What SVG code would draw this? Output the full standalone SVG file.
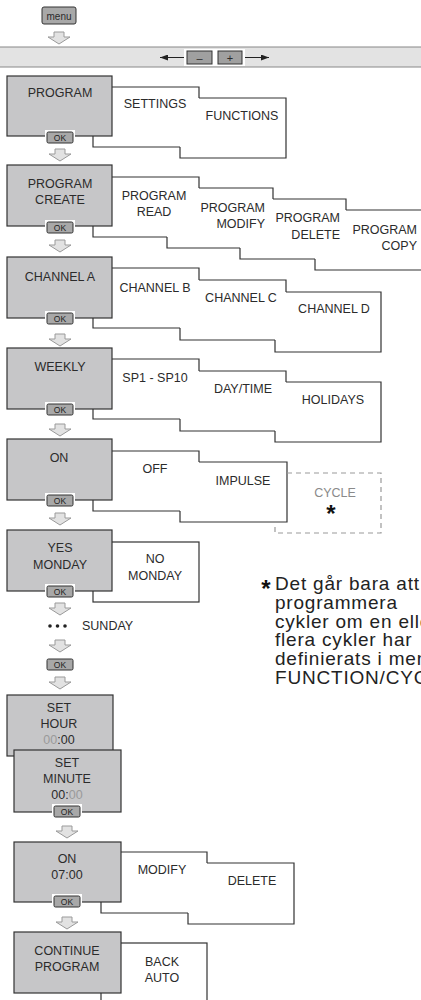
<svg xmlns="http://www.w3.org/2000/svg" xmlns:xlink="http://www.w3.org/1999/xlink" width="421" height="1000" viewBox="0 0 421 1000">
<style>
.gb{fill:#c6c6c8;stroke:#333;stroke-width:1.2}
.wb{fill:#fff;stroke:#333;stroke-width:1.2}
.ol{fill:none;stroke:#333;stroke-width:1.2}
.dash{fill:none;stroke:#999;stroke-width:1.2;stroke-dasharray:5 4}
.t{font-family:"Liberation Sans",Arial,sans-serif;font-size:12.5px;fill:#2b2b2b;text-anchor:middle}
.r{text-anchor:end}
.g{fill:#9a9a9a}
.okb{fill:#a8a8a8;stroke:#333;stroke-width:1}
.okh{fill:#fff}
.okt{font-family:"Liberation Sans",Arial,sans-serif;font-size:8.5px;fill:#222;text-anchor:middle}
.arr{fill:#e2e2e2;stroke:#9a9a9a;stroke-width:1}
.star{font-family:"Liberation Sans",Arial,sans-serif;font-size:24px;font-weight:bold;fill:#111;text-anchor:middle}
.fn{font-family:"Liberation Sans",Arial,sans-serif;font-size:19px;letter-spacing:0.8px;fill:#222}
</style>
<defs>
<path id="da" class="arr" d="M-5,0 H5 V5 H11 L0,12 L-11,5 H-5 Z"/>
<g id="ok"><rect class="okh" x="-15" y="-2" width="30" height="15"/><rect class="okb" x="-13" y="0" width="26" height="11" rx="1.5"/><text class="okt" x="0" y="8.5">OK</text></g>
<marker id="ah" viewBox="0 0 8 6" refX="8" refY="3" markerWidth="8" markerHeight="6" orient="auto"><path d="M0,0 L8,3 L0,6 Z" fill="#222"/></marker>
</defs>

<g id="menu"><rect x="42" y="7" width="34" height="17" rx="2" fill="#a8a8a8" stroke="#333" stroke-width="1"/><text class="t" x="59" y="19.5" style="font-size:10px">menu</text></g>

<g id="bar">
<rect x="-2" y="47" width="425" height="20" fill="#e3e3e3" stroke="#888" stroke-width="1"/>
<line x1="184" y1="57.5" x2="160" y2="57.5" stroke="#222" stroke-width="1" marker-end="url(#ah)"/>
<line x1="245" y1="57.5" x2="269" y2="57.5" stroke="#222" stroke-width="1" marker-end="url(#ah)"/>
<rect x="184" y="49" width="31" height="17" fill="#fff"/>
<rect x="215" y="49" width="30" height="17" fill="#fff"/>
<rect x="187" y="51" width="25" height="13" fill="#a0a0a0" stroke="#333" stroke-width="1"/>
<rect x="218" y="51" width="24" height="13" fill="#a0a0a0" stroke="#333" stroke-width="1"/>
<text class="t" x="199.5" y="61.5" style="font-size:11px">–</text>
<text class="t" x="230" y="61.5" style="font-size:11px">+</text>
</g>

<g id="connectors">
<use xlink:href="#da" x="59" y="32"/>
<use xlink:href="#da" x="60" y="149"/>
<use xlink:href="#da" x="60" y="240"/>
<use xlink:href="#da" x="60" y="334"/>
<use xlink:href="#da" x="60" y="424"/>
<use xlink:href="#da" x="60" y="513"/>
<use xlink:href="#da" x="60" y="603"/>
<use xlink:href="#da" x="60" y="640"/>
<use xlink:href="#da" x="60" y="677"/>
<use xlink:href="#da" x="67" y="826"/>
<use xlink:href="#da" x="67" y="917"/>
</g>

<!-- Row 1 -->
<g id="settings"><path class="ol" d="M180,147 H93 V87 H199 V98"/><text class="t" x="155" y="108">SETTINGS</text></g>
<g id="functions"><path class="ol" d="M199,98 H286 V158 H180 V147"/><text class="t" x="242" y="120">FUNCTIONS</text></g>
<g id="program"><rect class="gb" x="7" y="76" width="105" height="60"/><text class="t" x="60" y="97">PROGRAM</text><use xlink:href="#ok" x="60" y="132"/></g>

<!-- Row 2 -->
<g id="pread"><path class="ol" d="M167,237 H93 V177 H199 V188"/><text class="t" x="154" y="200">PROGRAM</text><text class="t" x="154" y="216">READ</text></g>
<g id="pmodify"><path class="ol" d="M199,188 H273 V199 M240,248 H167 V237"/><text class="t r" x="265" y="212">PROGRAM</text><text class="t r" x="265" y="228">MODIFY</text></g>
<g id="pdelete"><path class="ol" d="M273,199 H346 V210 M315,259 H240 V248"/><text class="t r" x="340" y="222">PROGRAM</text><text class="t r" x="340" y="239">DELETE</text></g>
<g id="pcopy"><path class="ol" d="M346,210 H440 M440,270 H315 V259"/><text class="t r" x="417" y="234">PROGRAM</text><text class="t r" x="417" y="250">COPY</text></g>
<g id="pcreate"><rect class="gb" x="7" y="165" width="105" height="61"/><text class="t" x="60" y="188">PROGRAM</text><text class="t" x="60" y="204">CREATE</text><use xlink:href="#ok" x="60" y="222"/></g>

<!-- Row 3 -->
<g id="chb"><path class="ol" d="M180,328 H93 V268 H199 V280"/><text class="t" x="155" y="292">CHANNEL B</text></g>
<g id="chc"><path class="ol" d="M199,280 H286 V292 M275,340 H180 V328"/><text class="t" x="241" y="302">CHANNEL C</text></g>
<g id="chd"><path class="ol" d="M286,292 H381 V352 H275 V340"/><text class="t" x="334" y="313">CHANNEL D</text></g>
<g id="cha"><rect class="gb" x="7" y="257" width="105" height="61"/><text class="t" x="60" y="281">CHANNEL A</text><use xlink:href="#ok" x="60" y="313"/></g>

<!-- Row 4 -->
<g id="sp"><path class="ol" d="M180,419 H93 V359 H199 V371"/><text class="t" x="155" y="382">SP1 - SP10</text></g>
<g id="daytime"><path class="ol" d="M199,371 H286 V382 M275,431 H180 V419"/><text class="t" x="243" y="393">DAY/TIME</text></g>
<g id="holidays"><path class="ol" d="M286,382 H381 V442 H275 V431"/><text class="t" x="333" y="404">HOLIDAYS</text></g>
<g id="weekly"><rect class="gb" x="7" y="348" width="105" height="61"/><text class="t" x="60" y="371">WEEKLY</text><use xlink:href="#ok" x="60" y="404"/></g>

<!-- Row 5 -->
<g id="off"><path class="ol" d="M180,511 H93 V451 H199 V462"/><text class="t" x="155" y="473">OFF</text></g>
<g id="impulse"><path class="ol" d="M199,462 H287 V522 H180 V511"/><text class="t" x="243" y="485">IMPULSE</text></g>
<g id="cycle"><path class="dash" d="M287,473 H381 V533 H275 V522"/><text class="t" x="335" y="497" style="fill:#8a8a8a">CYCLE</text><text class="star" x="331" y="522">*</text></g>
<g id="on"><rect class="gb" x="7" y="439" width="105" height="61"/><text class="t" x="59" y="462">ON</text><use xlink:href="#ok" x="60" y="495"/></g>

<!-- Row 6 -->
<g id="nomonday"><rect class="wb" x="93" y="542" width="106" height="60"/><text class="t" x="155" y="563">NO</text><text class="t" x="155" y="580">MONDAY</text></g>
<g id="yesmonday"><rect class="gb" x="7" y="530" width="105" height="61"/><text class="t" x="60" y="552">YES</text><text class="t" x="60" y="569">MONDAY</text><use xlink:href="#ok" x="60" y="586"/></g>

<g id="sunday"><circle cx="50" cy="626" r="1.8" fill="#222"/><circle cx="57.5" cy="626" r="1.8" fill="#222"/><circle cx="65" cy="626" r="1.8" fill="#222"/><text class="t" x="82" y="630" style="text-anchor:start">SUNDAY</text></g>
<g id="ok2"><use xlink:href="#ok" x="60" y="659"/></g>

<!-- Footnote -->
<g id="footnote">
<text class="star" x="266" y="597">*</text>
<text class="fn" x="275" y="590">Det går bara att</text>
<text class="fn" x="275" y="609">programmera</text>
<text class="fn" x="275" y="628">cykler om en eller</text>
<text class="fn" x="275" y="646">flera cykler har</text>
<text class="fn" x="275" y="665">definierats i menyn</text>
<text class="fn" x="275" y="684">FUNCTION/CYCLE</text>
</g>

<!-- Row 8 -->
<g id="sethour"><rect class="gb" x="7" y="695" width="106" height="61"/><text class="t" x="59" y="712">SET</text><text class="t" x="59" y="728">HOUR</text><text class="t" x="59" y="744"><tspan class="g">00</tspan>:00</text></g>
<g id="setminute"><rect class="gb" x="14" y="750" width="107" height="62"/><text class="t" x="67" y="767">SET</text><text class="t" x="67" y="783">MINUTE</text><text class="t" x="67" y="799">00:<tspan class="g">00</tspan></text><use xlink:href="#ok" x="67" y="806"/></g>

<!-- Row 9 -->
<g id="modify"><path class="ol" d="M188,913 H101 V852 H207 V863"/><text class="t" x="162" y="874">MODIFY</text></g>
<g id="delete"><path class="ol" d="M207,863 H294 V924 H188 V913"/><text class="t" x="252" y="885">DELETE</text></g>
<g id="on0700"><rect class="gb" x="14" y="842" width="107" height="60"/><text class="t" x="67" y="863">ON</text><text class="t" x="67" y="879">07:00</text><use xlink:href="#ok" x="67" y="896"/></g>

<!-- Row 10 -->
<g id="backauto"><rect class="wb" x="101" y="943" width="106" height="65"/><text class="t" x="162" y="966">BACK</text><text class="t" x="162" y="982">AUTO</text></g>
<g id="continue"><rect class="gb" x="14" y="932" width="107" height="61"/><text class="t" x="67" y="955">CONTINUE</text><text class="t" x="67" y="971">PROGRAM</text></g>
</svg>
